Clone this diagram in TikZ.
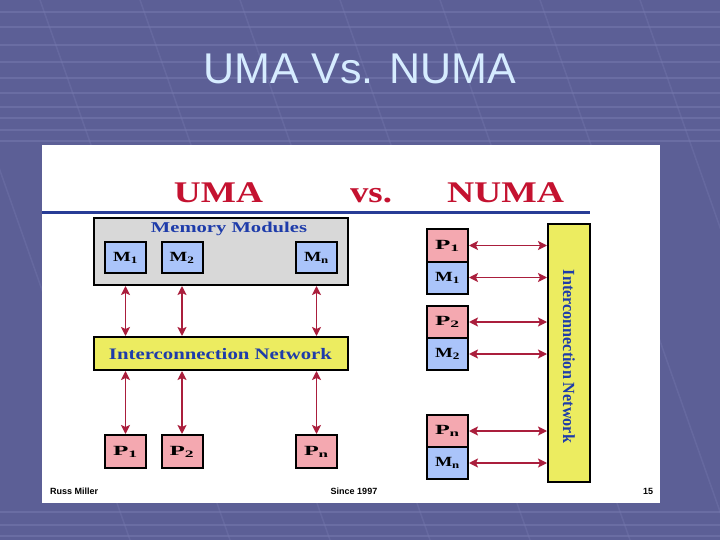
\documentclass[tikz,border=0pt]{standalone}
\usepackage{fontspec}
\usepackage{graphicx}
\setmainfont{Liberation Serif}
\newfontfamily\slidefont{Liberation Sans}
\usetikzlibrary{arrows.meta}

\definecolor{slidebg}{RGB}{92,95,150}
\definecolor{slidegrid}{RGB}{120,123,176}
\definecolor{titlecol}{RGB}{214,236,255}
\definecolor{headred}{RGB}{196,18,48}
\definecolor{rulblue}{RGB}{40,60,150}
\definecolor{labelblue}{RGB}{30,60,170}
\definecolor{modgray}{RGB}{216,216,216}
\definecolor{memblue}{RGB}{170,196,250}
\definecolor{procpink}{RGB}{244,168,176}
\definecolor{netyellow}{RGB}{236,236,96}
\definecolor{linkred}{RGB}{170,30,60}

\newcommand\fitw[2]{\resizebox{#1}{\height}{#2}}

\tikzset{
  boxed/.style={draw=black,line width=2pt,inner sep=0pt,
    font=\fontsize{14}{14}\selectfont\bfseries},
  membox/.style={boxed,fill=memblue,minimum width=41pt,minimum height=31pt},
  procbox/.style={boxed,fill=procpink,minimum width=41pt,minimum height=33pt},
  nmem/.style={boxed,fill=memblue,minimum width=41pt,minimum height=32pt},
  nproc/.style={boxed,fill=procpink,minimum width=41pt,minimum height=32pt},
  netbox/.style={draw=black,line width=2pt,fill=netyellow,inner sep=0pt},
  netlabel/.style={text=labelblue,inner sep=0pt},
  head/.style={text=headred,anchor=base,inner sep=0pt},
  foot/.style={font=\slidefont\fontsize{9}{9}\selectfont\bfseries,anchor=base,inner sep=0pt},
  link/.style={draw=linkred,line width=1.6pt,
    {Stealth[length=9pt,width=9pt,inset=2pt]}-{Stealth[length=9pt,width=9pt,inset=2pt]}},
}

\begin{document}
\begin{tikzpicture}[x=1pt,y=-1pt]
\useasboundingbox (0,0) rectangle (720,540);
% slide background
\fill[slidebg] (0,0) rectangle (720,540);
\foreach \y in {12,27,45,62,78,93,107,118,130,141,512,525,536}
  \draw[slidegrid,line width=2pt,opacity=.5] (0,\y) -- (720,\y);
\foreach \x in {-60,40,140,240,340,440,540,640}
  \draw[slidegrid,line width=1.5pt,opacity=.35] (\x,0) -- (\x+190,540);
\node[font=\slidefont\fontsize{43}{43}\selectfont,text=titlecol,anchor=base,inner sep=0pt]
  (title) at (360,84) {UMA Vs. NUMA};

% picture area
\fill[white] (42,145) rectangle (660,503);
\node[head] (uma) at (218.5,203) {\fitw{89pt}{\fontsize{30}{30}\selectfont\bfseries UMA}};
\node[head] (vs) at (371,203) {\fitw{42pt}{\fontsize{30}{30}\selectfont\bfseries vs.}};
\node[head] (numa) at (505.5,203) {\fitw{117pt}{\fontsize{30}{30}\selectfont\bfseries NUMA}};
\draw[rulblue,line width=3pt] (42,213) -- (590,213);

% UMA side
\node[netbox,fill=modgray,minimum width=254pt,minimum height=67pt] (mods) at (221,251.5) {};
\node[netlabel,anchor=base] (modlabel) at (229,233)
  {\fitw{156pt}{\fontsize{15}{15}\selectfont\bfseries Memory Modules}};
\node[membox] (m1) at (125.5,257.5) {\fitw{25pt}{M\textsubscript{1}}};
\node[membox] (m2) at (182,257.5) {\fitw{25pt}{M\textsubscript{2}}};
\node[membox] (mn) at (316.5,257.5) {\fitw{25pt}{M\textsubscript{n}}};
\node[netbox,minimum width=254pt,minimum height=33pt] (net) at (221,353.5) {};
\node[netlabel,anchor=base] (netlabel) at (220.5,359)
  {\fitw{223pt}{\fontsize{16}{16}\selectfont\bfseries Interconnection Network}};
\node[procbox] (p1) at (125.5,451.5) {\fitw{25pt}{P\textsubscript{1}}};
\node[procbox] (p2) at (182,451.5) {\fitw{25pt}{P\textsubscript{2}}};
\node[procbox] (pn) at (316.5,451.5) {\fitw{25pt}{P\textsubscript{n}}};
\foreach \n in {m1,m2,mn}
  \draw[link] (\n.south |- mods.south) -- (\n.south |- net.north);
\foreach \n in {p1,p2,pn}
  \draw[link] (\n.north |- net.south) -- (\n.north);

% NUMA side
\node[nproc] (np1) at (447.5,245.5) {\fitw{25pt}{P\textsubscript{1}}};
\node[nmem] (nm1) at (447.5,277.5) {\fitw{25pt}{M\textsubscript{1}}};
\node[nproc] (np2) at (447.5,322) {\fitw{25pt}{P\textsubscript{2}}};
\node[nmem] (nm2) at (447.5,354) {\fitw{25pt}{M\textsubscript{2}}};
\node[nproc] (npn) at (447.5,431) {\fitw{25pt}{P\textsubscript{n}}};
\node[nmem] (nmn) at (447.5,463) {\fitw{25pt}{M\textsubscript{n}}};
\node[netbox,minimum width=42pt,minimum height=258pt] (nnet) at (569,353) {};
\node[netlabel,rotate=-90] (nnetlabel) at (569,356.5)
  {\fitw{173pt}{\fontsize{17}{17}\selectfont\bfseries Interconnection Network}};
\foreach \n in {np1,nm1,np2,nm2,npn,nmn}
  \draw[link] (\n.east) -- (\n.east -| nnet.west);

% footer
\node[foot,anchor=base west] (author) at (50,494) {Russ Miller};
\node[foot] (since) at (354,494) {Since 1997};
\node[foot] (page) at (648,494) {15};
\end{tikzpicture}
\end{document}
